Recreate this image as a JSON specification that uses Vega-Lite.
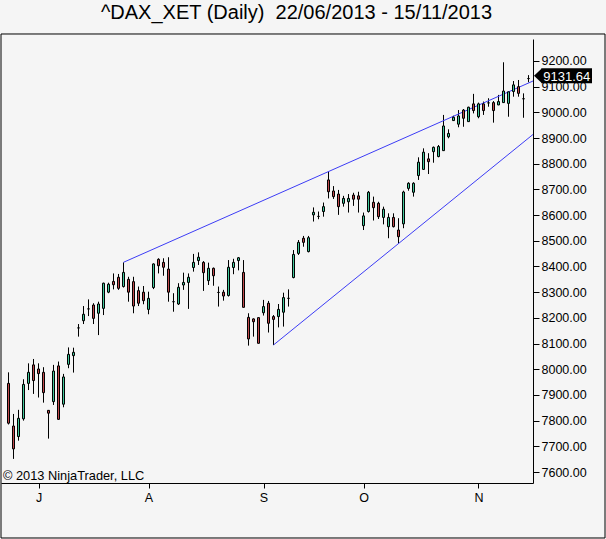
{
  "$schema": "https://vega.github.io/schema/vega-lite/v6.json",
  "width": 532,
  "height": 444,
  "autosize": {"type": "none"},
  "padding": {"left": 1, "top": 39, "right": 73, "bottom": 56},
  "background": "#f5f5f5",
  "config": {
    "view": {"stroke": null},
    "font": "Liberation Sans",
    "axis": {"labelOverlap": false, "labelBound": false, "grid": false, "title": null},
    "axisY": {"labelOverlap": false, "tickCount": 17}
  },
  "title": {
    "text": "^DAX_XET (Daily)\u00a0 22/06/2013 - 15/11/2013",
    "fontSize": 20,
    "fontWeight": "normal",
    "font": "Liberation Sans",
    "color": "#000000",
    "anchor": "middle",
    "dx": 29.5,
    "dy": 20,
    "baseline": "alphabetic",
    "offset": 14.7
  },
  "datasets": {
    "bars": [
      {"i":0,"open":7945,"high":7988,"low":7785,"close":7790},
      {"i":1,"open":7779,"high":7826,"low":7651,"close":7690},
      {"i":2,"open":7738,"high":7842,"low":7722,"close":7809},
      {"i":3,"open":7807,"high":7961,"low":7800,"close":7941},
      {"i":4,"open":7945,"high":8023,"low":7919,"close":7988},
      {"i":5,"open":8017,"high":8040,"low":7904,"close":7956},
      {"i":6,"open":8001,"high":8023,"low":7890,"close":7983},
      {"i":7,"open":7988,"high":8008,"low":7870,"close":7909},
      {"i":8,"open":7840,"high":7841,"low":7730,"close":7829},
      {"i":9,"open":7874,"high":8017,"low":7861,"close":7993},
      {"i":10,"open":8013,"high":8030,"low":7804,"close":7805},
      {"i":11,"open":7864,"high":7982,"low":7852,"close":7970},
      {"i":12,"open":8019,"high":8085,"low":8004,"close":8058},
      {"i":13,"open":8053,"high":8084,"low":7987,"close":8066},
      {"i":14,"open":8161,"high":8176,"low":8127,"close":8161},
      {"i":15,"open":8189,"high":8246,"low":8176,"close":8214},
      {"i":16,"open":8235,"high":8272,"low":8207,"close":8235},
      {"i":17,"open":8250,"high":8257,"low":8176,"close":8198},
      {"i":18,"open":8218,"high":8263,"low":8133,"close":8254},
      {"i":19,"open":8237,"high":8337,"low":8211,"close":8335},
      {"i":20,"open":8300,"high":8337,"low":8296,"close":8331},
      {"i":21,"open":8342,"high":8373,"low":8311,"close":8329},
      {"i":22,"open":8358,"high":8371,"low":8309,"close":8315},
      {"i":23,"open":8322,"high":8416,"low":8318,"close":8377},
      {"i":24,"open":8350,"high":8360,"low":8263,"close":8300},
      {"i":25,"open":8341,"high":8360,"low":8218,"close":8246},
      {"i":26,"open":8306,"high":8322,"low":8246,"close":8257},
      {"i":27,"open":8300,"high":8324,"low":8253,"close":8267},
      {"i":28,"open":8233,"high":8302,"low":8214,"close":8276},
      {"i":29,"open":8318,"high":8412,"low":8312,"close":8410},
      {"i":30,"open":8428,"high":8432,"low":8373,"close":8403},
      {"i":31,"open":8416,"high":8432,"low":8364,"close":8397},
      {"i":32,"open":8390,"high":8436,"low":8263,"close":8300},
      {"i":33,"open":8263,"high":8296,"low":8224,"close":8263},
      {"i":34,"open":8254,"high":8335,"low":8250,"close":8319},
      {"i":35,"open":8328,"high":8376,"low":8309,"close":8338},
      {"i":36,"open":8338,"high":8373,"low":8235,"close":8358},
      {"i":37,"open":8396,"high":8449,"low":8380,"close":8416},
      {"i":38,"open":8423,"high":8455,"low":8406,"close":8436},
      {"i":39,"open":8416,"high":8421,"low":8305,"close":8376},
      {"i":40,"open":8345,"high":8415,"low":8328,"close":8393},
      {"i":41,"open":8393,"high":8396,"low":8325,"close":8364},
      {"i":42,"open":8299,"high":8322,"low":8244,"close":8299},
      {"i":43,"open":8300,"high":8309,"low":8267,"close":8285},
      {"i":44,"open":8287,"high":8425,"low":8283,"close":8397},
      {"i":45,"open":8396,"high":8430,"low":8370,"close":8416},
      {"i":46,"open":8423,"high":8437,"low":8385,"close":8434},
      {"i":47,"open":8377,"high":8425,"low":8241,"close":8241},
      {"i":48,"open":8202,"high":8218,"low":8092,"close":8118},
      {"i":49,"open":8196,"high":8198,"low":8127,"close":8185},
      {"i":50,"open":8201,"high":8201,"low":8101,"close":8101},
      {"i":51,"open":8220,"high":8270,"low":8209,"close":8244},
      {"i":52,"open":8257,"high":8266,"low":8143,"close":8179},
      {"i":53,"open":8205,"high":8211,"low":8094.5,"close":8194},
      {"i":54,"open":8205,"high":8254,"low":8163,"close":8233},
      {"i":55,"open":8222,"high":8298,"low":8166,"close":8279},
      {"i":56,"open":8276,"high":8311,"low":8244,"close":8276},
      {"i":57,"open":8357,"high":8464,"low":8354,"close":8447},
      {"i":58,"open":8451,"high":8503,"low":8445,"close":8494},
      {"i":59,"open":8510,"high":8519,"low":8477,"close":8494},
      {"i":60,"open":8458,"high":8519,"low":8455,"close":8512},
      {"i":61,"open":8601,"high":8630,"low":8575,"close":8611},
      {"i":62,"open":8595,"high":8614,"low":8584,"close":8595},
      {"i":63,"open":8614,"high":8649,"low":8594,"close":8633},
      {"i":64,"open":8737,"high":8769,"low":8665,"close":8691},
      {"i":65,"open":8694,"high":8713,"low":8663,"close":8672},
      {"i":66,"open":8682,"high":8698,"low":8601,"close":8633},
      {"i":67,"open":8646,"high":8675,"low":8633,"close":8665},
      {"i":68,"open":8652,"high":8682,"low":8610,"close":8665},
      {"i":69,"open":8678,"high":8687,"low":8636,"close":8662},
      {"i":70,"open":8675,"high":8691,"low":8610,"close":8662},
      {"i":71,"open":8559,"high":8610,"low":8542,"close":8597},
      {"i":72,"open":8614,"high":8694,"low":8610,"close":8689},
      {"i":73,"open":8650,"high":8672,"low":8579,"close":8629},
      {"i":74,"open":8646,"high":8652,"low":8585,"close":8594},
      {"i":75,"open":8591,"high":8633,"low":8564,"close":8623},
      {"i":76,"open":8555,"high":8607,"low":8510,"close":8591},
      {"i":77,"open":8591,"high":8607,"low":8552,"close":8555},
      {"i":78,"open":8542,"high":8588,"low":8490,"close":8516},
      {"i":79,"open":8566,"high":8695,"low":8549,"close":8690},
      {"i":80,"open":8704,"high":8728,"low":8695,"close":8724},
      {"i":81,"open":8689,"high":8728,"low":8672,"close":8724},
      {"i":82,"open":8754,"high":8825,"low":8737,"close":8806},
      {"i":83,"open":8778,"high":8860,"low":8776,"close":8845},
      {"i":84,"open":8819,"high":8841,"low":8760,"close":8808},
      {"i":85,"open":8847,"high":8867,"low":8804,"close":8864},
      {"i":86,"open":8828,"high":8873,"low":8825,"close":8867},
      {"i":87,"open":8851,"high":8990,"low":8850,"close":8947},
      {"i":88,"open":8905,"high":8934,"low":8899,"close":8918},
      {"i":89,"open":8968,"high":8987,"low":8967,"close":8981},
      {"i":90,"open":8954,"high":9009,"low":8942,"close":8986},
      {"i":91,"open":9009,"high":9013,"low":8944,"close":8977},
      {"i":92,"open":8964,"high":9022,"low":8963,"close":9020},
      {"i":93,"open":9033,"high":9072,"low":8996,"close":9007},
      {"i":94,"open":8983,"high":9038,"low":8977,"close":9033},
      {"i":95,"open":9033,"high":9042,"low":8990,"close":9007},
      {"i":96,"open":9037,"high":9055,"low":9022,"close":9037},
      {"i":97,"open":9038,"high":9044,"low":8960,"close":9007},
      {"i":98,"open":9029,"high":9068,"low":9028,"close":9042},
      {"i":99,"open":9038,"high":9195,"low":9037,"close":9083},
      {"i":100,"open":9035,"high":9081,"low":8983,"close":9080},
      {"i":101,"open":9081,"high":9122,"low":9061,"close":9107},
      {"i":102,"open":9100,"high":9126,"low":9061,"close":9074},
      {"i":103,"open":9053,"high":9074,"low":8979,"close":9053},
      {"i":104,"open":9131.64,"high":9145,"low":9117,"close":9131.64}
    ],
    "lines": [
      {"x1": 23, "p1": 8416.3, "x2": 104.9, "p2": 9122},
      {"x1": 53, "p1": 8094.5, "x2": 104.9, "p2": 8914}
    ],
    "last": [{"last": 9131.64}],
    "one": [{}]
  },
  "layer": [
    {
      "data": {"name": "bars"},
      "mark": {"type": "rule", "color": "#000000", "strokeWidth": 1},
      "encoding": {
        "x": {
          "field": "i",
          "type": "quantitative",
          "title": null,
          "scale": {"domain": [-1.5, 104.9], "nice": false, "zero": false, "padding": 0},
          "axis": {
            "values": [6, 28, 51, 71, 94],
            "labelExpr": "datum.value == 6 ? 'J' : datum.value == 28 ? 'A' : datum.value == 51 ? 'S' : datum.value == 71 ? 'O' : 'N'",
            "title": null,
            "grid": false,
            "tickSize": 5,
            "tickColor": "#000000",
            "domainColor": "#000000",
            "labelColor": "#000000",
            "labelFontSize": 12.5,
            "labelFont": "Liberation Sans",
            "labelPadding": 3,
            "labelFlush": false
          }
        },
        "y": {
          "field": "low",
          "type": "quantitative",
          "title": null,
          "scale": {"domain": [7557.2, 9285.6], "nice": false, "zero": false, "padding": 0},
          "axis": {
            "orient": "right",
            "values": [7600, 7700, 7800, 7900, 8000, 8100, 8200, 8300, 8400, 8500, 8600, 8700, 8800, 8900, 9000, 9100, 9200],
            "format": ".2f",
            "title": null,
            "grid": false,
            "tickSize": 6,
            "tickColor": "#000000",
            "domainColor": "#000000",
            "labelColor": "#000000",
            "labelFontSize": 12.5,
            "labelFont": "Liberation Sans",
            "labelPadding": 2,
            "labelFlush": false,
            "labelOverlap": false
          }
        },
        "y2": {"field": "high"}
      }
    },
    {
      "data": {"name": "one"},
      "mark": {"type": "rect", "filled": false, "stroke": "#000000", "strokeWidth": 1},
      "encoding": {
        "x": {"datum": -1.5, "type": "quantitative", "title": null},
        "x2": {"datum": 119.3},
        "y": {"datum": 9305.1, "type": "quantitative", "title": null},
        "y2": {"datum": 7343.1}
      }
    },
    {
      "data": {"name": "lines"},
      "mark": {"type": "rule", "color": "#3c3cf5", "strokeWidth": 1},
      "encoding": {
        "x": {"field": "x1", "type": "quantitative", "title": null},
        "x2": {"field": "x2"},
        "y": {"field": "p1", "type": "quantitative", "title": null},
        "y2": {"field": "p2"}
      }
    },
    {
      "data": {"name": "bars"},
      "mark": {"type": "bar", "orient": "vertical", "width": 2, "stroke": "#000000", "strokeWidth": 1},
      "encoding": {
        "x": {"field": "i", "type": "quantitative", "title": null},
        "y": {"field": "open", "type": "quantitative", "title": null},
        "y2": {"field": "close"},
        "fill": {
          "condition": [
            {"test": "datum.close > datum.open", "value": "#40c89a"},
            {"test": "datum.close < datum.open", "value": "#c0484b"}
          ],
          "value": "#000000"
        }
      }
    },
    {
      "data": {"name": "one"},
      "mark": {"type": "text", "text": "© 2013 NinjaTrader, LLC", "align": "left", "baseline": "alphabetic", "fontSize": 12.8, "font": "Liberation Sans", "color": "#000000", "dx": 2},
      "encoding": {
        "x": {"datum": -1.5, "type": "quantitative", "title": null},
        "y": {"datum": 7570.8, "type": "quantitative", "title": null}
      }
    },
    {
      "data": {"name": "last"},
      "mark": {"type": "point", "shape": "M0.53,-1L-0.53,0L0.53,1Z", "filled": true, "color": "#000000", "size": 225, "opacity": 1, "strokeWidth": 0},
      "encoding": {
        "x": {"datum": 105.9, "type": "quantitative", "title": null},
        "y": {"datum": 9142.4, "type": "quantitative", "title": null}
      }
    },
    {
      "data": {"name": "last"},
      "mark": {"type": "rect", "color": "#000000"},
      "encoding": {
        "x": {"datum": 106.6, "type": "quantitative", "title": null},
        "x2": {"datum": 116.7},
        "y": {"datum": 9171.6, "type": "quantitative", "title": null},
        "y2": {"datum": 9113.2}
      }
    },
    {
      "data": {"name": "last"},
      "mark": {"type": "text", "align": "center", "baseline": "alphabetic", "fontSize": 13, "font": "Liberation Sans", "color": "#ffffff"},
      "encoding": {
        "x": {"datum": 111.65, "type": "quantitative", "title": null},
        "y": {"datum": 9123.3, "type": "quantitative", "title": null},
        "text": {"field": "last", "type": "quantitative", "format": ".2f"}
      }
    }
  ]
}
